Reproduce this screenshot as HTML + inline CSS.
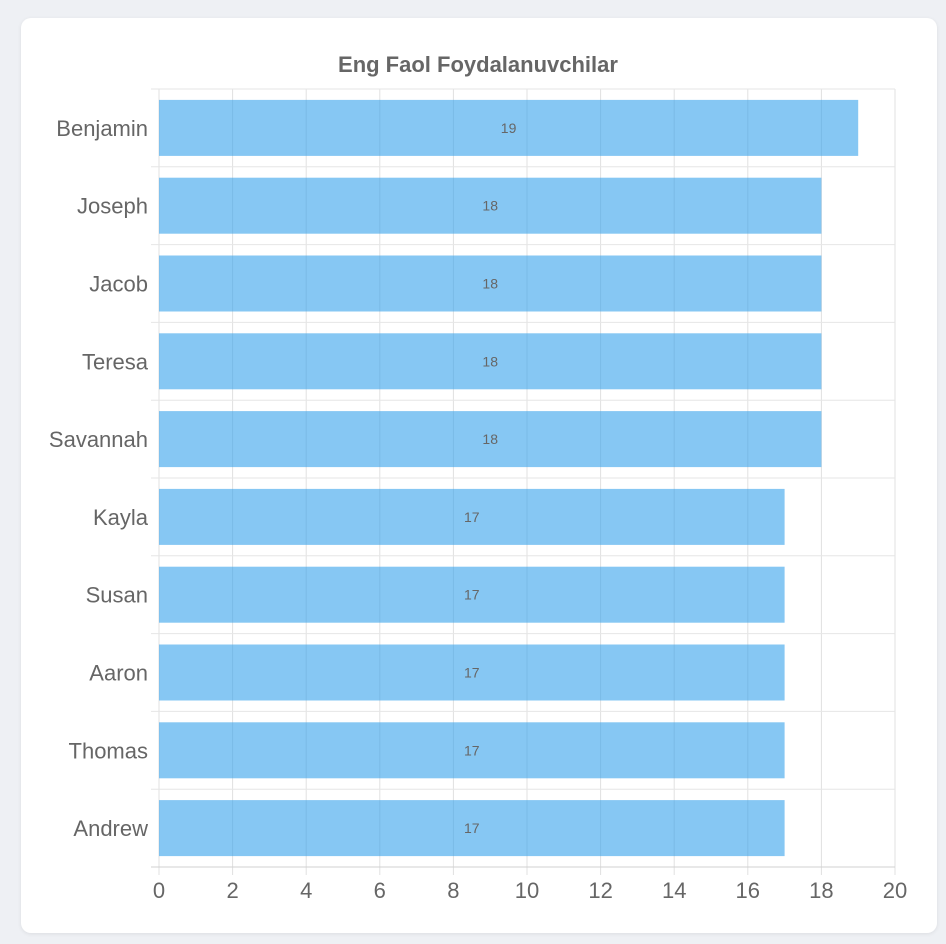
<!DOCTYPE html>
<html><head><meta charset="utf-8"><style>
html,body{margin:0;padding:0;background:#eef0f4;width:946px;height:944px;overflow:hidden}
.card{position:absolute;left:21px;top:18px;width:916px;height:915px;background:#fff;border-radius:10px;box-shadow:0 1px 4px rgba(0,0,0,0.08)}
svg{position:absolute;left:0;top:0}
text{font-family:"Liberation Sans",sans-serif}
</style></head><body>
<div class="card"></div>
<svg id="chart" width="946" height="944"></svg>
<script>
const categories = ["Benjamin","Joseph","Jacob","Teresa","Savannah","Kayla","Susan","Aaron","Thomas","Andrew"];
const values = [19,18,18,18,18,17,17,17,17,17];
const xTicks = [0,2,4,6,8,10,12,14,16,18,20];
const chartTitle = "Eng Faol Foydalanuvchilar";

const NS = "http://www.w3.org/2000/svg";
const svg = document.getElementById('chart');
const L = 159, R = 895, T = 89, B = 867, xMax = 20;
const xScale = v => L + (v / xMax) * (R - L);
const rowH = (B - T) / categories.length;
const yScale = i => T + i * rowH;
function mk(tag, attrs, txt) {
  const e = document.createElementNS(NS, tag);
  for (const k in attrs) e.setAttribute(k, attrs[k]);
  if (txt !== undefined) e.textContent = txt;
  svg.appendChild(e);
  return e;
}
const title = mk('text', {x: 478, y: 72, 'text-anchor': 'middle', 'font-size': 22, 'font-weight': 'bold', fill: '#666'}, chartTitle);



// grid
xTicks.forEach(t => {
  const g = mk('line', {x1: xScale(t), x2: xScale(t), y1: T, y2: B + 8, stroke: '#e0e0e0', 'stroke-width': 1});
  
  
  const lb = mk('text', {x: xScale(t), y: 898, 'text-anchor': 'middle', 'font-size': 22, fill: '#666'}, t);
  
  
});
for (let i = 0; i <= categories.length; i++) {
  const g = mk('line', {x1: 151, x2: R, y1: yScale(i), y2: yScale(i), stroke: i === categories.length ? '#d0d0d0' : '#e6e6e6', 'stroke-width': 1});
  
  
}
categories.forEach((c, i) => {
  const yc = yScale(i) + rowH / 2;
  const bar = mk('rect', {x: xScale(0), y: yc - 28, width: xScale(values[i]) - xScale(0), height: 56, fill: 'rgba(54,162,235,0.6)'});
  
  
  const lb = mk('text', {x: 148, y: yc + 8, 'text-anchor': 'end', 'font-size': 22, fill: '#666'}, c);
  
  
  const vl = mk('text', {x: (xScale(0) + xScale(values[i])) / 2, y: yc + 5, 'text-anchor': 'middle', 'font-size': 14, fill: '#666'}, values[i]);
  
  
});
</script>
</body></html>
